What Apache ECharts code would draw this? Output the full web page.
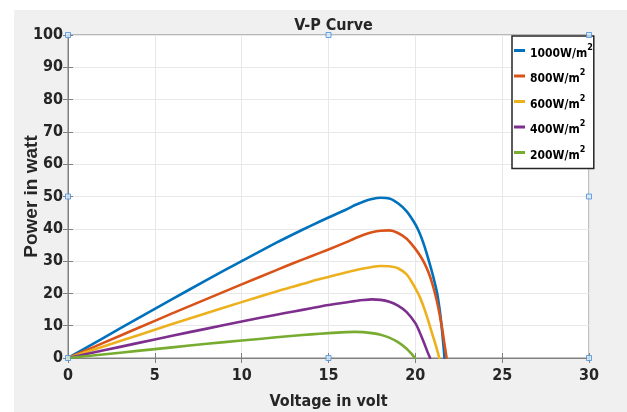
<!DOCTYPE html>
<html>
<head>
<meta charset="utf-8">
<script src="https://cdn.jsdelivr.net/npm/echarts@6/dist/echarts.min.js"></script>
<style>
html,body{margin:0;padding:0;background:#fff;}
#wrap{position:absolute;left:14px;top:10px;width:613px;height:402px;background:#f0f0f0;}
#chart{width:613px;height:402px;}
</style>
</head>
<body>
<div id="wrap"><div id="chart"></div></div>
<script>
// ---- data ----
const titleText = 'V-P Curve';
const xName = 'Voltage in volt';
const yName = 'Power in watt';
const seriesNames = ['1000', '800', '600', '400', '200'];
const seriesColors = ['#0072BD', '#D95319', '#EDB120', '#7E2F8E', '#77AC30'];

const v1000 = [0, 2, 4, 6, 8, 10, 12, 13, 14, 15, 16, 16.5, 17, 17.5, 18, 18.5, 19, 19.5, 20, 20.25, 20.5, 20.75, 21, 21.25, 21.4, 21.5, 21.6, 21.68];
const p1000 = [0, 6.1, 12.2, 18.2, 24.2, 30.0, 35.7, 38.4, 41.0, 43.5, 45.9, 47.3, 48.4, 49.2, 49.6, 49.4, 47.9, 45.4, 41.4, 38.6, 35.0, 30.6, 25.8, 20.2, 15.0, 10.5, 5.0, 0];

const v800 = [0, 2, 4, 6, 8, 10, 12, 13, 14, 15, 16, 16.5, 17, 17.5, 18, 18.5, 19, 19.5, 20, 20.25, 20.5, 20.75, 21, 21.25, 21.5, 21.65, 21.8];
const p800 = [0, 4.6, 9.2, 13.8, 18.3, 22.8, 27.2, 29.4, 31.5, 33.6, 35.8, 37.0, 38.1, 38.9, 39.4, 39.5, 38.7, 36.9, 33.8, 31.9, 29.6, 26.6, 22.6, 17.4, 10.5, 5.3, 0];

const v600 = [0, 2, 4, 6, 8, 10, 12, 13, 14, 15, 16, 17, 17.5, 18, 18.5, 19, 19.5, 19.75, 20, 20.25, 20.5, 20.75, 21, 21.2, 21.38];
const p600 = [0, 3.5, 7.0, 10.5, 13.9, 17.3, 20.6, 22.1, 23.7, 25.1, 26.5, 27.7, 28.2, 28.5, 28.4, 27.8, 25.9, 23.9, 21.6, 19.0, 15.5, 11.4, 7.0, 3.5, 0];

const v400 = [0, 2, 4, 6, 8, 10, 12, 13, 14, 15, 16, 16.5, 17, 17.5, 18, 18.5, 19, 19.5, 20, 20.25, 20.5, 20.7, 20.85];
const p400 = [0, 2.3, 4.6, 6.9, 9.1, 11.3, 13.4, 14.4, 15.4, 16.4, 17.2, 17.6, 17.95, 18.15, 18.0, 17.4, 16.2, 14.2, 10.8, 8.0, 4.7, 1.9, 0];

const v200 = [0, 2, 4, 6, 8, 10, 12, 13, 14, 15, 16, 16.5, 17, 17.5, 18, 18.5, 19, 19.5, 19.75, 19.98];
const p200 = [0, 1.1, 2.2, 3.3, 4.4, 5.4, 6.4, 6.9, 7.3, 7.7, 8.0, 8.1, 8.0, 7.7, 7.2, 6.3, 4.9, 2.9, 1.5, 0];

const voltages = [v1000, v800, v600, v400, v200];
const powers = [p1000, p800, p600, p400, p200];

const xTicks = [0, 5, 10, 15, 20, 25, 30];
const yTicks = [0, 10, 20, 30, 40, 50, 60, 70, 80, 90, 100];

// MATLAB selection handles (decoration) at axes corners / midpoints
const handleX = [0, 15, 30, 0, 30, 0, 15, 30];
const handleY = [0, 0, 0, 50, 50, 100, 100, 100];

// ---- chart ----
const chart = echarts.init(document.getElementById('chart'), null, {renderer: 'canvas'});
const narrow = "'DejaVu Sans Condensed', 'Liberation Sans Narrow', 'Roboto Condensed', 'Liberation Sans', Arial, sans-serif";
const axisGray = '#808080';
const textCol = '#262626';

const lineSeries = seriesNames.map((n, i) => ({
  name: n,
  type: 'line',
  data: voltages[i].map((v, k) => [v, powers[i][k]]),
  showSymbol: false,
  smooth: 0.3,
  lineStyle: {color: seriesColors[i], width: 2.6, join: 'round', cap: 'round'},
  itemStyle: {color: seriesColors[i]},
  z: 3
}));

const option = {
  animation: false,
  backgroundColor: 'transparent',
  title: {
    text: titleText,
    left: 314.5,
    textAlign: 'center',
    top: 3,
    textStyle: {fontFamily: narrow, fontWeight: 'bold', fontSize: 16, color: textCol}
  },
  grid: {
    left: 54, right: 38, top: 25, bottom: 54,
    outerBoundsMode: 'none', containLabel: false,
    show: true, backgroundColor: '#ffffff', borderColor: axisGray, borderWidth: 1
  },
  legend: {
    data: seriesNames,
    orient: 'vertical',
    left: 498, top: 26,
    backgroundColor: '#ffffff',
    borderColor: '#262626', borderWidth: 1.5,
    borderRadius: 0,
    padding: [7, 1, 7, 2],
    itemGap: 9,
    itemWidth: 11, itemHeight: 3,
    icon: 'rect',
    formatter: n => '{a|' + n + 'W/m}{s|2}',
    textStyle: {
      color: '#000', fontFamily: narrow, fontWeight: 'bold', fontSize: 12,
      rich: {
        a: {fontFamily: narrow, fontWeight: 'bold', fontSize: 12, color: '#000', padding: [6, 0, 0, 0]},
        s: {fontFamily: narrow, fontWeight: 'bold', fontSize: 9, color: '#000', padding: [0, 0, 6, 0]}
      }
    }
  },
  xAxis: [{
    type: 'value', min: 0, max: 30, interval: 5,
    name: xName, nameLocation: 'middle', nameGap: 36, nameMoveOverlap: false,
    nameTextStyle: {fontFamily: narrow, fontWeight: 'bold', fontSize: 16, color: textCol},
    axisLine: {show: true, lineStyle: {color: axisGray}},
    axisTick: {show: true, inside: true, length: 5, lineStyle: {color: axisGray}},
    axisLabel: {margin: 10, fontFamily: narrow, fontWeight: 'bold', fontSize: 16, color: textCol,
      formatter: v => xTicks.includes(v) ? String(v) : ''},
    splitLine: {show: true, lineStyle: {color: '#e8e8e8', width: 1}}
  }, {
    type: 'value', min: 0, max: 30, interval: 5, position: 'top',
    axisLine: {show: true, lineStyle: {color: axisGray}},
    axisTick: {show: true, inside: true, length: 5, lineStyle: {color: axisGray}},
    axisLabel: {show: false}, splitLine: {show: false}
  }],
  yAxis: [{
    type: 'value', min: 0, max: 100, interval: 10,
    name: yName, nameLocation: 'middle', nameGap: 27, nameRotate: 90, nameMoveOverlap: false,
    nameTextStyle: {fontFamily: "'Liberation Sans', Arial, sans-serif", fontWeight: 'bold', fontSize: 19, color: textCol},
    axisLine: {show: true, lineStyle: {color: axisGray}},
    axisTick: {show: true, inside: true, length: 5, lineStyle: {color: axisGray}},
    axisLabel: {margin: 5, fontFamily: narrow, fontWeight: 'bold', fontSize: 16, color: textCol,
      formatter: v => yTicks.includes(v) ? String(v) : ''},
    splitLine: {show: true, lineStyle: {color: '#e8e8e8', width: 1}}
  }, {
    type: 'value', min: 0, max: 100, interval: 10, position: 'right',
    axisLine: {show: true, lineStyle: {color: axisGray}},
    axisTick: {show: true, inside: true, length: 5, lineStyle: {color: axisGray}},
    axisLabel: {show: false}, splitLine: {show: false}
  }],
  series: lineSeries.concat([{
    name: 'handles',
    type: 'scatter',
    data: handleX.map((x, i) => [x, handleY[i]]),
    symbol: 'rect', symbolSize: 5,
    itemStyle: {color: '#d6e8f8', borderColor: '#4a90d9', borderWidth: 1},
    silent: true, z: 5,
    clip: false
  }])
};
chart.setOption(option);
</script>
</body>
</html>
